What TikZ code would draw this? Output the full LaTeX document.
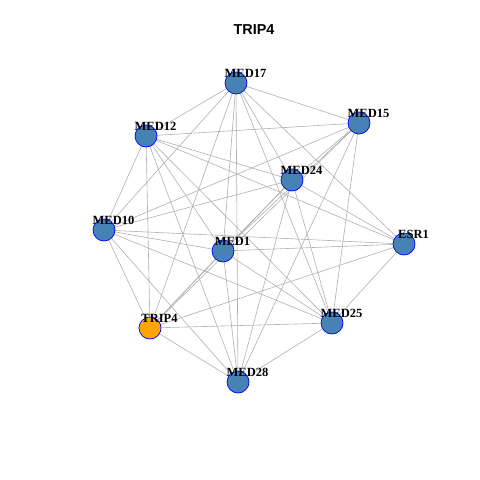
\documentclass[tikz,border=0pt]{standalone}
\usepackage{fontspec}
\setmainfont{Liberation Serif}
\newfontfamily\titlefont{Liberation Sans}
\begin{document}
\begin{tikzpicture}[x=1bp,y=-1bp,
  vert/.style={circle,draw=blue,line width=0.7bp,fill={rgb,255:red,70;green,130;blue,180},minimum size=22bp,inner sep=0pt},
  hub/.style={vert,fill={rgb,255:red,255;green,165;blue,0}},
  lab/.style={font=\fontsize{12.5bp}{14bp}\selectfont\bfseries,inner sep=0pt},
  edge/.style={draw={rgb,255:red,176;green,176;blue,176},line width=0.6bp}]
\useasboundingbox (0,0) rectangle (480,480);
\node[font=\titlefont\fontsize{14.4bp}{16bp}\selectfont\bfseries] (title) at (254,30) {TRIP4};
\coordinate (MED17) at (236,83);
\coordinate (MED15) at (359,123);
\coordinate (MED12) at (146,136);
\coordinate (MED24) at (292,180);
\coordinate (MED10) at (104,230);
\coordinate (MED1) at (223,251);
\coordinate (ESR1) at (404,244);
\coordinate (TRIP4) at (150,328);
\coordinate (MED25) at (332,323);
\coordinate (MED28) at (238,382);
\foreach \a/\b in {MED17/MED15,MED17/MED12,MED17/MED24,MED17/MED10,MED17/MED1,MED17/ESR1,MED17/TRIP4,MED17/MED25,MED17/MED28,
  MED15/MED12,MED15/MED24,MED15/MED10,MED15/MED1,MED15/TRIP4,MED15/MED25,MED15/MED28,
  MED12/MED24,MED12/MED10,MED12/MED1,MED12/ESR1,MED12/TRIP4,MED12/MED25,MED12/MED28,
  MED24/MED10,MED24/MED1,MED24/ESR1,MED24/TRIP4,MED24/MED25,MED24/MED28,
  MED10/MED1,MED10/ESR1,MED10/TRIP4,MED10/MED25,MED10/MED28,
  MED1/ESR1,MED1/TRIP4,MED1/MED25,MED1/MED28,
  ESR1/TRIP4,ESR1/MED25,
  TRIP4/MED25,TRIP4/MED28,
  MED25/MED28}
  \draw[edge] (\a) -- (\b);
\foreach \n in {MED17,MED15,MED12,MED24,MED10,MED1,ESR1,MED25,MED28}
  \node[vert] (n\n) at (\n) {};
\node[hub] (nTRIP4) at (TRIP4) {};
\foreach \n in {MED17,MED15,MED12,MED24,MED10,MED1,ESR1,TRIP4,MED25,MED28}
  \node[lab] (l\n) at ([shift={(9.5,-9.5)}]\n) {\n};
\end{tikzpicture}
\end{document}
